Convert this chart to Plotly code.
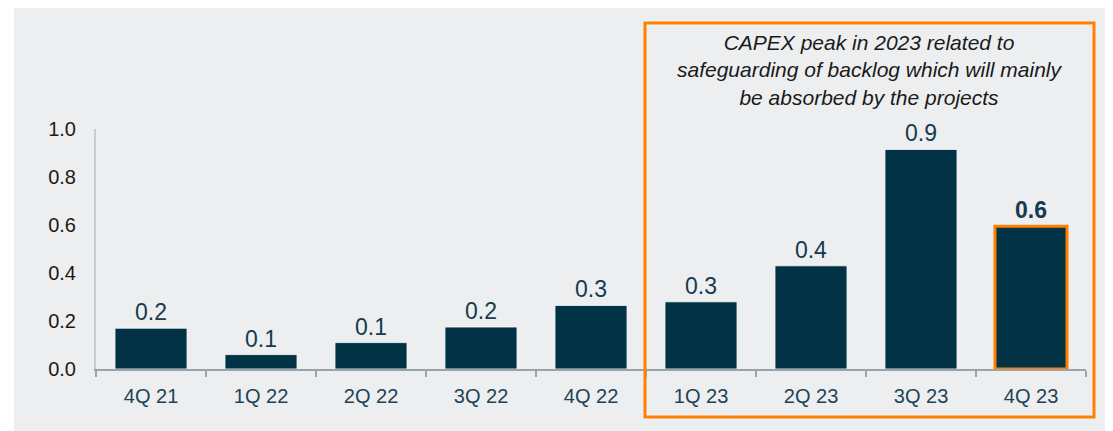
import plotly.graph_objects as go

categories = ["4Q 21", "1Q 22", "2Q 22", "3Q 22", "4Q 22", "1Q 23", "2Q 23", "3Q 23", "4Q 23"]
values = [0.17, 0.06, 0.11, 0.175, 0.265, 0.28, 0.43, 0.915, 0.595]
y_ticks = [0.0, 0.2, 0.4, 0.6, 0.8, 1.0]
note_lines = ["CAPEX peak in 2023 related to",
              "safeguarding of backlog which will mainly",
              "be absorbed by the projects"]

BG = "#edeef0"
BAR = "#023246"
ORANGE = "#ff8000"
LABEL = "#163a4e"
FONT = "Liberation Sans, Arial, sans-serif"

OFF = 8  # default page body margin
W, H = 1113 - OFF, 431 - OFF
L = 96 - OFF
R = W - (1086 - OFF)
T = 129 - OFF
B = H - (369 - OFF)
pw = W - L - R
ph = H - T - B

def px_x(x):
    return (x - OFF - L) / pw

def px_y(y):
    return (H - B - (y - OFF)) / ph

texts = [f"{v:.1f}" for v in values]
texts[-1] = f"<b>{values[-1]:.1f}</b>"
line_colors = ["rgba(255,255,255,0.8)"] * (len(values) - 1) + [ORANGE]
line_widths = [1] * (len(values) - 1) + [3]

fig = go.Figure(go.Bar(
    x=categories, y=values,
    marker=dict(color=BAR, line=dict(color=line_colors, width=line_widths)),
    text=texts, textposition="outside", cliponaxis=False,
    textfont=dict(family=FONT, size=23, color=LABEL),
    hoverinfo="skip",
))

fig.update_layout(
    width=W, height=H,
    margin=dict(l=L, r=R, t=T, b=B),
    paper_bgcolor="white", plot_bgcolor=BG,
    bargap=0.345, showlegend=False,
    font=dict(family=FONT),
    shapes=[
        dict(type="rect", xref="paper", yref="paper",
             x0=px_x(14), x1=px_x(1113 + 5), y0=px_y(431 + 5), y1=px_y(0),
             fillcolor=BG, line=dict(width=0), layer="below"),
        dict(type="rect", xref="paper", yref="paper",
             x0=px_x(645), x1=px_x(1094), y0=px_y(417), y1=px_y(23),
             fillcolor="rgba(0,0,0,0)", line=dict(color=ORANGE, width=3), layer="above"),
    ],
    annotations=[dict(
        xref="paper", yref="paper", x=px_x(870), y=px_y(29),
        xanchor="center", yanchor="top", showarrow=False,
        text="<br>".join(f"<i>{t}</i>" for t in note_lines),
        font=dict(family=FONT, size=21, color="#1a1a1a"), align="center",
    )],
)

fig.update_xaxes(
    showline=True, linecolor="#9aa3aa", linewidth=2,
    ticks="outside", tickson="boundaries", ticklen=6, tickcolor="#9aa3aa", tickwidth=2,
    tickfont=dict(family=FONT, size=20, color="#1e4357"),
    ticklabelstandoff=8, showgrid=False, zeroline=False,
)
fig.update_yaxes(
    range=[0, 1.0], tickvals=y_ticks, ticktext=[f"{v:.1f}" for v in y_ticks],
    showline=True, linecolor="#c9cdd2", linewidth=2,
    ticks="", showgrid=False, zeroline=False,
    tickfont=dict(family=FONT, size=20, color="#1a1a1a"),
    ticklabelstandoff=14,
)

fig.write_html("out.html")
